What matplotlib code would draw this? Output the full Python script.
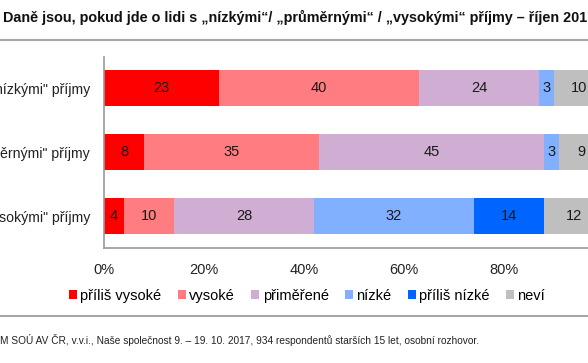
import matplotlib
matplotlib.use("Agg")
import matplotlib.pyplot as plt
from matplotlib.lines import Line2D
from matplotlib.patches import Patch

plt.rcParams['font.family'] = ['Liberation Sans', 'DejaVu Sans']

categories = ['nízkými" příjmy', 'ěrnými" příjmy', 'sokými" příjmy']
series_names = ['příliš vysoké', 'vysoké', 'přiměřené', 'nízké', 'příliš nízké', 'neví']
values = {
    'příliš vysoké': [23, 8, 4],
    'vysoké': [40, 35, 10],
    'přiměřené': [24, 45, 28],
    'nízké': [3, 3, 32],
    'příliš nízké': [0, 0, 14],
    'neví': [10, 9, 12],
}
colors = ['#FF0000', '#FF7C80', '#D0AED3', '#80B0FF', '#0064FF', '#BFBFBF']
xticks = [0, 20, 40, 60, 80]
xtick_labels = ['0%', '20%', '40%', '60%', '80%']
title = 'Daně jsou, pokud jde o lidi s „nízkými“/ „průměrnými“ / „vysokými“ příjmy – říjen 2017'
footnote = 'M SOÚ AV ČR, v.v.i., Naše společnost 9. – 19. 10. 2017, 934 respondentů starších 15 let, osobní rozhovor.'

W, H = 588, 363
fig = plt.figure(figsize=(W / 100, H / 100), dpi=100)
ax = fig.add_axes([104 / W, (H - 248) / H, 500 / W, (248 - 57) / H])

y = list(range(len(categories)))
left = [0] * len(categories)
for name, col in zip(series_names, colors):
    vals = values[name]
    ax.barh(y, vals, left=left, height=0.56, color=col, edgecolor='none')
    for i, v in enumerate(vals):
        if v > 0:
            ax.text(left[i] + v / 2, y[i], str(v), ha='center', va='center',
                    fontsize=10.5, color='#1a1a1a')
    left = [l + v for l, v in zip(left, vals)]

ax.set_xlim(0, 100)
ax.set_ylim(2.5, -0.49)
ax.set_yticks(y)
ax.set_yticklabels(categories, fontsize=10.2, color='#222222')
ax.set_xticks(xticks)
ax.set_xticklabels(xtick_labels, fontsize=10.5, color='#222222')
ax.tick_params(axis='both', length=0)
ax.tick_params(axis='y', pad=10)
ax.tick_params(axis='x', pad=11)
for s in ['top', 'right']:
    ax.spines[s].set_visible(False)
for s in ['left', 'bottom']:
    ax.spines[s].set_color('#999999')
    ax.spines[s].set_linewidth(1.2)

fig.text(3 / W, 1 - 17 / H, title, ha='left', va='center', fontsize=10.35,
         fontweight='bold', color='#111111')
fig.add_artist(Line2D([0, 1], [1 - 40 / H, 1 - 40 / H], color='#A6A6A6', lw=1.5))
fig.add_artist(Line2D([0, 1], [1 - 316 / H, 1 - 316 / H], color='#A6A6A6', lw=1.5))

handles = [Patch(facecolor=c, edgecolor='none') for c in colors]
fig.legend(handles, series_names, loc='center', bbox_to_anchor=(307 / W, 1 - 296 / H),
           ncol=6, frameon=False, fontsize=10.5, handlelength=0.55, handleheight=0.55,
           handletextpad=0.25, columnspacing=1.1)

fig.text(0, 1 - 340 / H, footnote, ha='left', va='center', fontsize=7.3, color='#222222')

fig.savefig('out.png', dpi=100)
